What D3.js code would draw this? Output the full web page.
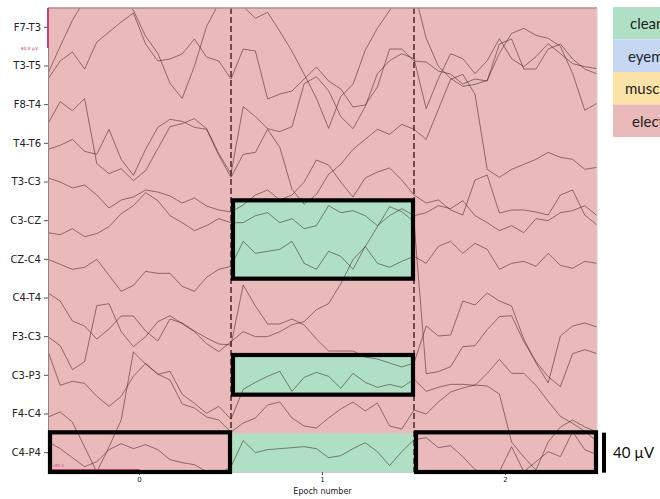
<!DOCTYPE html>
<html>
<head>
<meta charset="utf-8">
<script src="https://cdn.jsdelivr.net/npm/d3@7"></script>
<style>
  body { margin: 0; background: #fff; }
  svg { display: block; }
</style>
</head>
<body>
<svg id="chart" width="660" height="499"></svg>
<script>
// channels, top to bottom
const channels = ["F7-T3", "T3-T5", "F8-T4", "T4-T6", "T3-C3", "C3-CZ",
                  "CZ-C4", "C4-T4", "F3-C3", "C3-P3", "F4-C4", "C4-P4"];
const epochs = [0, 1, 2];
const samplesPerEpoch = 15;   // read-off points per epoch
const epochSeconds = 2;

// signal in µV (epoch 0 | epoch 1 | epoch 2)
const f7t3 = [-46,-19,7,27,37,35,31,17,-9,-26,-56,-71,-39,1,24,35,
              21,9,15,-4,-24,-47,-71,-101,-69,-57,-23,-1,17,33,37,
              -11,-39,-51,-59,-57,-53,-26,-6,-1,-8,-11,-19,-46,-83,-76];
const t3t5 = [-13,5,14,-3,24,34,44,53,22,5,7,12,27,9,5,-13,
              17,15,-33,-28,-25,-13,-1,-15,-23,-41,-39,-21,17,17,5,
              4,-5,-8,-18,-13,-15,22,27,-3,-3,17,22,7,-3,-8];
const f8t4 = [-19,3,-6,6,-59,-69,-64,-76,-66,-44,-22,-19,-14,-24,-49,-69,
              -2,-12,-24,-27,-22,21,28,14,-12,-24,-2,31,44,51,46,
              -4,26,51,46,31,44,66,46,38,48,61,51,41,38,36];
const t4t6 = [-6,-2,4,-8,-11,14,-16,-32,-6,16,24,22,16,14,-12,-34,
              -11,-9,14,-4,-46,-61,-51,-31,-21,-6,4,14,9,19,14,
              4,34,64,69,49,-26,-34,-26,-21,-16,-9,-14,-16,-26,-24];
const t3c3 = [4,0,-6,-3,-13,-26,-18,-15,-8,-10,-14,-21,-16,-24,-28,-30,
              -23,-13,-8,-18,-13,0,22,17,0,-15,4,10,14,2,-13,
              -21,-18,-28,-33,2,7,-31,-28,-28,-30,-33,-13,-8,-33,-43];
const c3cz = [-12,-14,-8,-16,-13,-6,7,15,28,20,5,-2,-10,-5,2,-2,
              -2,5,8,-2,2,-8,-5,15,8,10,5,-5,5,12,5,
              8,15,12,20,5,-2,-10,-5,-12,2,0,8,10,15,5];
const czc4 = [0,-5,-10,-8,0,-16,-32,-26,-12,-14,-14,-27,-32,-18,-10,-7,
              18,6,8,10,18,-4,-10,8,3,-10,13,-4,-8,-2,3,
              -4,13,18,6,16,10,-10,-4,-2,-7,6,-6,-9,-2,-4];
const c4t4 = [5,-3,-23,-28,-41,-31,-18,-18,-33,-43,-21,-25,-33,-40,-46,-47,
              13,-8,-26,-26,-21,-27,-41,-53,-53,-53,-59,-61,-65,-69,-65,
              -28,-38,-37,-3,-7,5,-3,-8,-41,-65,-85,-38,-28,-25,-29];
const f3c3 = [0,-9,-33,-25,31,33,5,-10,0,15,21,13,5,-7,-15,-5,
              5,0,0,5,12,15,27,33,53,77,90,110,130,125,115,
              -37,-35,-30,-10,-9,7,20,21,-5,-25,-40,-50,-17,-13,-17];
const c3p3 = [24,-10,-6,-8,-21,-31,-21,-1,12,1,4,-19,-28,-38,-31,-44,
              -14,-7,-1,4,-16,-2,3,-1,-13,2,-7,-12,-9,-12,-4,
              -16,-12,-9,-9,-10,2,16,2,2,-10,-26,-41,-48,-56,-66];
const f4c4 = [-3,2,-8,-33,-58,-33,-6,62,50,40,34,10,6,-3,-6,-18,
              -9,-4,9,12,-4,-12,-14,-4,5,12,3,11,-12,-15,4,
              0,12,22,26,29,28,20,-28,-43,-56,-28,-13,-6,-13,-18];
const c4p4 = [11,4,-5,-14,-9,3,9,4,8,3,-7,-10,-12,-19,-21,-14,
              12,0,3,4,5,6,4,-5,-3,4,10,1,-13,1,13,
              15,5,7,-4,-17,-21,-19,6,-19,-9,1,-4,21,3,-2];

const traces = [f7t3, t3t5, f8t4, t4t6, t3c3, c3cz, czc4, c4t4, f3c3, c3p3, f4c4, c4p4];

// annotations
const cleanCells = [
  { epoch: 1, channel: "C3-CZ" },
  { epoch: 1, channel: "CZ-C4" },
  { epoch: 1, channel: "C3-P3" },
  { epoch: 1, channel: "C4-P4" }
];
const boxes = [
  { epoch: 1, first: "C3-CZ", last: "CZ-C4" },
  { epoch: 1, first: "C3-P3", last: "C3-P3" },
  { epoch: 0, first: "C4-P4", last: "C4-P4" },
  { epoch: 2, first: "C4-P4", last: "C4-P4" }
];
const legendLabels = ["clean", "eyemov", "muscle", "electrode"];
const legendColors = ["#afe0c5", "#c5d7f3", "#fde2a6", "#eababa"];
const scaleUv = 40;

const svg = d3.select("#chart");
const plot = { left: 48, right: 597, top: 8, bottom: 472 };

const x = d3.scaleLinear().domain([0, epochs.length]).range([plot.left, plot.right]);
const xEpoch = d3.scaleBand().domain(epochs).range([plot.left, plot.right]);
const y = d3.scaleBand().domain(channels).range([plot.top, plot.bottom]);
const amp = d3.scaleLinear().domain([0, 40]).range([0, 40]);   // px per µV
const mid = ch => y(ch) + y.bandwidth() / 2;

// background (artifact class per cell)
svg.append("rect")
  .attr("x", plot.left).attr("y", plot.top)
  .attr("width", plot.right - plot.left).attr("height", plot.bottom - plot.top)
  .attr("fill", legendColors[3]);

svg.append("g").selectAll("rect")
  .data(cleanCells)
  .enter().append("rect")
  .attr("x", d => xEpoch(d.epoch))
  .attr("y", d => y(d.channel))
  .attr("width", xEpoch.bandwidth())
  .attr("height", y.bandwidth())
  .attr("fill", legendColors[0]);

svg.append("clipPath").attr("id", "clip")
  .append("rect")
  .attr("x", plot.left).attr("y", plot.top)
  .attr("width", plot.right - plot.left).attr("height", plot.bottom - plot.top);

// traces
const line = d3.line()
  .x((d, i) => x(i / samplesPerEpoch))
  .y(d => d.base - amp(d.v));

svg.append("g")
  .attr("clip-path", "url(#clip)")
  .selectAll("path")
  .data(channels)
  .enter().append("path")
  .attr("d", (ch, k) => line(traces[k].map(v => ({ v: v, base: mid(ch) }))))
  .attr("fill", "none")
  .attr("stroke", "#3b1f1f")
  .attr("stroke-opacity", 0.6)
  .attr("stroke-width", 0.9)
  .attr("stroke-linejoin", "round");

// epoch boundaries
svg.append("g").selectAll("line")
  .data(epochs.slice(1))
  .enter().append("line")
  .attr("x1", d => xEpoch(d)).attr("x2", d => xEpoch(d))
  .attr("y1", plot.top).attr("y2", plot.bottom)
  .attr("stroke", "#4a2626")
  .attr("stroke-width", 1.5)
  .attr("stroke-dasharray", "6,3");

// top spine
svg.append("line")
  .attr("x1", plot.left).attr("x2", plot.right)
  .attr("y1", plot.top).attr("y2", plot.top)
  .attr("stroke", "#b88888").attr("stroke-width", 1.5);
svg.append("line")
  .attr("x1", plot.right).attr("x2", plot.right)
  .attr("y1", plot.top).attr("y2", plot.bottom)
  .attr("stroke", "#d8d0d0").attr("stroke-width", 1);

// axes
const yAxis = svg.append("g")
  .attr("transform", `translate(${plot.left},0)`)
  .call(d3.axisLeft(y).tickSize(4).tickPadding(3).tickSizeOuter(0));
yAxis.select(".domain").attr("stroke", "#888");
yAxis.selectAll(".tick line").attr("stroke", "#555");
yAxis.selectAll("text")
  .attr("font-family", "DejaVu Sans")
  .attr("font-size", 10)
  .attr("fill", "#222");

const xAxis = svg.append("g")
  .attr("transform", `translate(0,${plot.bottom})`)
  .call(d3.axisBottom(xEpoch).tickSize(3).tickPadding(2).tickSizeOuter(0));
xAxis.select(".domain").attr("stroke", "#ccc");
xAxis.selectAll(".tick line").attr("stroke", "#555");
xAxis.selectAll("text")
  .attr("font-family", "DejaVu Sans")
  .attr("font-size", 7)
  .attr("fill", "#222");

svg.append("text")
  .attr("x", (plot.left + plot.right) / 2)
  .attr("y", 494)
  .attr("text-anchor", "middle")
  .attr("font-family", "DejaVu Sans")
  .attr("font-size", 8)
  .attr("fill", "#222")
  .text("Epoch number");

// small magenta scale markers
svg.append("line")
  .attr("x1", plot.left).attr("x2", plot.left)
  .attr("y1", plot.top).attr("y2", plot.top + amp(scaleUv))
  .attr("stroke", "#c2407e").attr("stroke-width", 2);
svg.append("text")
  .attr("x", plot.left - 10).attr("y", plot.top + amp(scaleUv) + 2)
  .attr("text-anchor", "end")
  .attr("font-family", "DejaVu Sans")
  .attr("font-size", 4.5)
  .attr("fill", "#c2407e")
  .text("40.0 µV");

svg.append("line")
  .attr("x1", x(0)).attr("x2", x(1 / epochSeconds))
  .attr("y1", plot.bottom - 2).attr("y2", plot.bottom - 2)
  .attr("stroke", "#c2407e").attr("stroke-width", 2.2);
svg.append("text")
  .attr("x", plot.left + 2).attr("y", plot.bottom - 5)
  .attr("font-family", "DejaVu Sans")
  .attr("font-size", 4.5)
  .attr("fill", "#c2407e")
  .text("1.00 s");

// highlighted boxes
svg.append("g").selectAll("rect")
  .data(boxes)
  .enter().append("rect")
  .attr("x", d => xEpoch(d.epoch) + 2)
  .attr("y", d => y(d.first) - 1)
  .attr("width", xEpoch.bandwidth() - 3)
  .attr("height", d => y(d.last) + y.bandwidth() - y(d.first) + 1)
  .attr("fill", "none")
  .attr("stroke", "#000")
  .attr("stroke-width", 4.2);

// 40 µV scale bar at right
const barMid = mid(channels[channels.length - 1]);
svg.append("line")
  .attr("x1", 604).attr("x2", 604)
  .attr("y1", barMid - amp(scaleUv) / 2).attr("y2", barMid + amp(scaleUv) / 2)
  .attr("stroke", "#000").attr("stroke-width", 4);
svg.append("text")
  .attr("x", 613).attr("y", barMid + 5)
  .attr("font-family", "Lato, Open Sans, sans-serif")
  .attr("font-size", 15)
  .attr("fill", "#111")
  .text(scaleUv + " µV");

// legend
const legend = svg.append("g").attr("transform", "translate(613,7)");
legend.selectAll("rect")
  .data(legendLabels)
  .enter().append("rect")
  .attr("x", 0)
  .attr("y", (d, i) => i * 32.5)
  .attr("width", 80)
  .attr("height", 32.5)
  .attr("fill", (d, i) => legendColors[i]);
legend.selectAll("text")
  .data(legendLabels)
  .enter().append("text")
  .attr("x", (d, i) => [17, 15, 12, 19][i])
  .attr("y", (d, i) => i * 32.5 + 22)
  .attr("font-family", "Lato, Open Sans, sans-serif")
  .attr("font-size", 15)
  .attr("fill", "#222")
  .text(d => d);
</script>
</body>
</html>
